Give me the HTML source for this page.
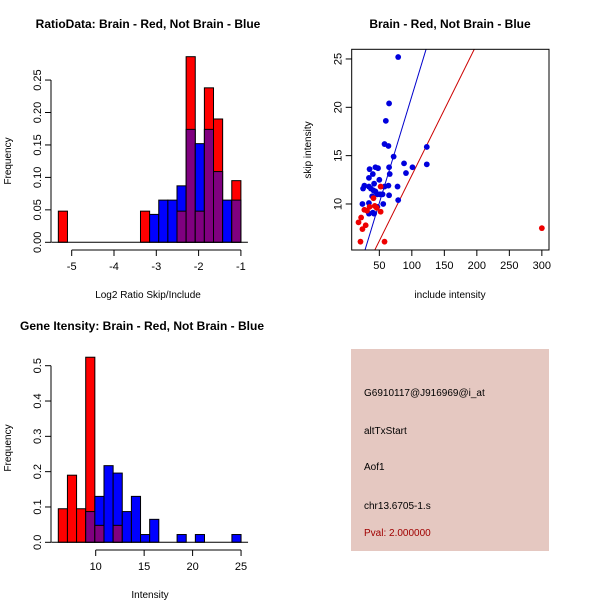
<!DOCTYPE html>
<html><head><meta charset="utf-8"><style>
body{margin:0;background:#fff}
svg{display:block;font-family:"Liberation Sans",sans-serif}
</style></head><body>
<svg id="s" width="600" height="600" viewBox="0 0 600 600">
<text x="148" y="28" text-anchor="middle" font-size="12" font-weight="bold">RatioData: Brain - Red, Not Brain - Blue</text>
<text x="450" y="28" text-anchor="middle" font-size="12" font-weight="bold">Brain - Red, Not Brain - Blue</text>
<text x="142" y="330" text-anchor="middle" font-size="12" font-weight="bold">Gene Itensity: Brain - Red, Not Brain - Blue</text>
<text x="148" y="298" text-anchor="middle" font-size="10">Log2 Ratio Skip/Include</text>
<text transform="translate(11,161) rotate(-90)" text-anchor="middle" font-size="10">Frequency</text>
<text x="450" y="298" text-anchor="middle" font-size="10">include intensity</text>
<text transform="translate(311,150) rotate(-90)" text-anchor="middle" font-size="10">skip intensity</text>
<text x="150" y="598" text-anchor="middle" font-size="10">Intensity</text>
<text transform="translate(11,448) rotate(-90)" text-anchor="middle" font-size="10">Frequency</text>
<g>
<rect x="351" y="349" width="198" height="202" fill="#e5c8c1"/>
<text x="364" y="396" font-size="10">G6910117@J916969@i_at</text>
<text x="364" y="434" font-size="10">altTxStart</text>
<text x="364" y="470" font-size="10">Aof1</text>
<text x="364" y="509" font-size="10">chr13.6705-1.s</text>
<text x="364" y="536" font-size="10" fill="#a00000">Pval: 2.000000</text>
</g>
<g id="g1"></g>
<g id="g2"></g>
<g id="g3"></g>
</svg>
<script>
// Ratio histogram data
const ratioBinStart = -5.316, ratioBinWidth = 0.2158;
const ratioRed  = [0.048,0,0,0,0,0,0,0,0,0.048,0,0,0,0.048,0.286,0.048,0.238,0.19,0,0.095];
const ratioBlue = [0,0,0,0,0,0,0,0,0,0,0.043,0.065,0.065,0.087,0.174,0.152,0.174,0.109,0.065,0.065];
const ratioXTicks = [-5,-4,-3,-2,-1];
const ratioYTicks = ["0.00","0.05","0.10","0.15","0.20","0.25"];
// Intensity histogram data
const intBinStart = 6.14, intBinWidth = 0.943;
const intRed  = [0.095,0.19,0.095,0.524,0.048,0,0.048,0,0,0,0,0,0,0,0,0,0,0,0,0];
const intBlue = [0,0,0,0.087,0.13,0.217,0.196,0.087,0.13,0.022,0.065,0,0,0.022,0,0.022,0,0,0,0.022];
const intXTicks = [10,15,20,25];
const intYTicks = ["0.0","0.1","0.2","0.3","0.4","0.5"];
// Scatter data
const blueX = [79,65,60,58,64,72,123,123,88,101,91,65,66,35,44,48,34,40,50,42,27,25,34,37,41,44,47,51,55,58,64,78,65,39,79,24,34,56,47,34,40,42];
const blueY = [25.2,20.4,18.6,16.2,16.0,14.9,15.9,14.1,14.2,13.8,13.2,13.8,13.1,13.6,13.8,13.7,12.7,13.1,12.5,12.1,11.9,11.6,11.8,11.6,11.4,11.3,11.0,11.0,11.0,11.8,11.9,11.8,10.9,10.8,10.4,10.0,10.1,10.0,9.7,9.0,9.1,9.0];
const redX = [52,41,27,31,35,43,46,52,22,18,29,24,21,58,300];
const redY = [11.8,10.6,9.4,9.3,9.7,9.8,9.6,9.2,8.6,8.1,7.8,7.4,6.1,6.1,7.5];
const blueFit = [-0.94, 0.221]; // intercept, slope
const redFit = [-0.60, 0.1357];
const scXTicks = [50,100,150,200,250,300];
const scYTicks = [10,15,20,25];

const NS="http://www.w3.org/2000/svg";
function mk(p,t,a){const e=document.createElementNS(NS,t);for(const k in a)e.setAttribute(k,a[k]);p.appendChild(e);return e;}

function hist(g,start,w,red,blue,sx,sy,xTicks,yTicks,yTickVals,axY,axX,ext){
  for(let i=0;i<red.length;i++){
    const x0=sx(start+i*w),x1=sx(start+(i+1)*w);
    const r=red[i],b=blue[i];
    const mx=Math.max(r,b),mn=Math.min(r,b);
    if(mx<=0)continue;
    const top=mk(g,'rect',{x:x0,y:sy(mx),width:x1-x0,height:sy(0)-sy(mx),fill:r>=b?'#ff0000':'#0000ff',stroke:'#000','stroke-width':1});
    
    
    if(mn>0){
      const o=mk(g,'rect',{x:x0,y:sy(mn),width:x1-x0,height:sy(0)-sy(mn),fill:'#800080',stroke:'#000','stroke-width':1});
      
      
    }
  }
  const base=mk(g,'line',{x1:sx(start)-ext,x2:sx(start+red.length*w)+ext,y1:sy(0),y2:sy(0),stroke:'#000'});
  
  
  const ya=mk(g,'line',{x1:axX,x2:axX,y1:sy(0),y2:sy(yTickVals[yTickVals.length-1]),stroke:'#000'});
  
  
  yTicks.forEach((l,i)=>{const v=yTickVals[i];
    mk(g,'line',{x1:axX-6,x2:axX,y1:sy(v),y2:sy(v),stroke:'#000'});
    const t=mk(g,'text',{transform:`translate(${axX-10},${sy(v)}) rotate(-90)`,'text-anchor':'middle','font-size':11});
    t.textContent=l;
    
    
  });
  const xa=mk(g,'line',{x1:sx(xTicks[0]),x2:sx(xTicks[xTicks.length-1]),y1:axY,y2:axY,stroke:'#000'});
  
  
  xTicks.forEach(v=>{
    mk(g,'line',{x1:sx(v),x2:sx(v),y1:axY,y2:axY+6,stroke:'#000'});
    const t=mk(g,'text',{x:sx(v),y:axY+20,'text-anchor':'middle','font-size':11});
    t.textContent=v;
    
    
  });
}

{const sx=v=>71.7+(v+5)*42.3, sy=v=>242.3-v*649;
 hist(document.getElementById('g1'),ratioBinStart,ratioBinWidth,ratioRed,ratioBlue,sx,sy,ratioXTicks,ratioYTicks,ratioYTicks.map(Number),250,51,7);}
{const sx=v=>95.7+(v-10)*9.69, sy=v=>542.3-v*353.2;
 hist(document.getElementById('g3'),intBinStart,intBinWidth,intRed,intBlue,sx,sy,intXTicks,intYTicks,intYTicks.map(Number),550,51,7);}
{const g=document.getElementById('g2');
 const x0=7.5,x1=311,y0=5.24,y1=26.0,L=351.7,R=549,T=49.3,B=250;
 const sx=v=>L+(v-x0)/(x1-x0)*(R-L), sy=v=>B-(v-y0)/(y1-y0)*(B-T);
 const cp=mk(g,'clipPath',{id:'cp'});mk(cp,'rect',{x:L,y:T,width:R-L,height:B-T});
 const lines=[[blueFit,'#0000cc','blue-fit-line'],[redFit,'#cc0000','red-fit-line']];
 lines.forEach(([f,c,n])=>{const l=mk(g,'line',{x1:sx(x0),y1:sy(f[0]+f[1]*x0),x2:sx(x1),y2:sy(f[0]+f[1]*x1),stroke:c,'clip-path':'url(#cp)'});
   
   });
 blueX.forEach((v,i)=>{const c=mk(g,'circle',{cx:sx(v),cy:sy(blueY[i]),r:2.9,fill:'#0000dd'});
   
   });
 redX.forEach((v,i)=>{const c=mk(g,'circle',{cx:sx(v),cy:sy(redY[i]),r:2.9,fill:'#ee0000'});
   
   });
 const box=mk(g,'rect',{x:L,y:T,width:R-L,height:B-T,fill:'none',stroke:'#000'});
 
 
 scXTicks.forEach(v=>{mk(g,'line',{x1:sx(v),x2:sx(v),y1:B,y2:B+6,stroke:'#000'});
   const t=mk(g,'text',{x:sx(v),y:B+19,'text-anchor':'middle','font-size':11});t.textContent=v;
   
   });
 scYTicks.forEach(v=>{mk(g,'line',{x1:L-6,x2:L,y1:sy(v),y2:sy(v),stroke:'#000'});
   const t=mk(g,'text',{transform:`translate(${L-10},${sy(v)}) rotate(-90)`,'text-anchor':'middle','font-size':11});t.textContent=v;
   
   });
}
</script>
</body></html>
